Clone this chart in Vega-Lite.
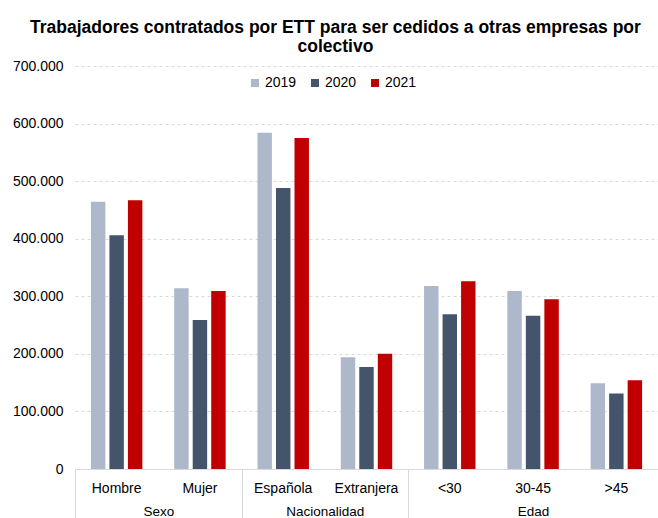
{
  "$schema": "https://vega.github.io/schema/vega-lite/v6.json",
  "width": 583,
  "height": 403,
  "autosize": {"type": "none"},
  "padding": {"top": 66, "left": 75, "right": 0, "bottom": 49},
  "background": "white",
  "title": {
    "text": ["Trabajadores contratados por ETT para ser cedidos a otras empresas por", "colectivo"],
    "anchor": "middle",
    "frame": "bounds",
    "font": "Liberation Sans",
    "fontSize": 17.5,
    "fontWeight": "bold",
    "lineHeight": 19,
    "color": "#000000",
    "offset": 4
  },
  "datasets": {
    "bars": [
      {"cat": "Hombre", "group": "Sexo", "year": "2019", "value": 464000},
      {"cat": "Hombre", "group": "Sexo", "year": "2020", "value": 406000},
      {"cat": "Hombre", "group": "Sexo", "year": "2021", "value": 467000},
      {"cat": "Mujer", "group": "Sexo", "year": "2019", "value": 314000},
      {"cat": "Mujer", "group": "Sexo", "year": "2020", "value": 259000},
      {"cat": "Mujer", "group": "Sexo", "year": "2021", "value": 309000},
      {"cat": "Española", "group": "Nacionalidad", "year": "2019", "value": 584000},
      {"cat": "Española", "group": "Nacionalidad", "year": "2020", "value": 488000},
      {"cat": "Española", "group": "Nacionalidad", "year": "2021", "value": 575000},
      {"cat": "Extranjera", "group": "Nacionalidad", "year": "2019", "value": 194000},
      {"cat": "Extranjera", "group": "Nacionalidad", "year": "2020", "value": 177000},
      {"cat": "Extranjera", "group": "Nacionalidad", "year": "2021", "value": 200000},
      {"cat": "<30", "group": "Edad", "year": "2019", "value": 318000},
      {"cat": "<30", "group": "Edad", "year": "2020", "value": 269000},
      {"cat": "<30", "group": "Edad", "year": "2021", "value": 326000},
      {"cat": "30-45", "group": "Edad", "year": "2019", "value": 309000},
      {"cat": "30-45", "group": "Edad", "year": "2020", "value": 266000},
      {"cat": "30-45", "group": "Edad", "year": "2021", "value": 295000},
      {"cat": ">45", "group": "Edad", "year": "2019", "value": 149000},
      {"cat": ">45", "group": "Edad", "year": "2020", "value": 131000},
      {"cat": ">45", "group": "Edad", "year": "2021", "value": 154000}
    ],
    "groups": [
      {"group": "Sexo", "start": 0, "end": 2},
      {"group": "Nacionalidad", "start": 2, "end": 4},
      {"group": "Edad", "start": 4, "end": 7}
    ]
  },
  "config": {
    "font": "Liberation Sans",
    "view": {"stroke": null},
    "axis": {"labelFont": "Liberation Sans", "labelColor": "#000000", "labelFontSize": 14}
  },
  "resolve": {"scale": {"x": "independent"}, "axis": {"x": "independent"}},
  "layer": [
    {
      "data": {"name": "bars"},
      "mark": {"type": "bar"},
      "encoding": {
        "x": {
          "field": "cat",
          "type": "nominal",
          "sort": ["Hombre", "Mujer", "Española", "Extranjera", "<30", "30-45", ">45"],
          "scale": {"paddingInner": 0, "paddingOuter": 0},
          "axis": {
            "orient": "bottom",
            "title": null,
            "labelAngle": 0,
            "ticks": false,
            "domain": true,
            "domainColor": "#d9d9d9",
            "domainWidth": 1,
            "labelPadding": 12,
            "grid": false
          }
        },
        "xOffset": {
          "field": "year",
          "type": "nominal",
          "scale": {"paddingInner": 0.22, "paddingOuter": 0.86}
        },
        "y": {
          "field": "value",
          "type": "quantitative",
          "scale": {"domain": [0, 700000], "nice": false},
          "axis": {
            "title": null,
            "values": [0, 100000, 200000, 300000, 400000, 500000, 600000, 700000],
            "labelExpr": "replace(format(datum.value, ','), regexp(',', 'g'), '.')",
            "domain": false,
            "ticks": false,
            "labelPadding": 12,
            "grid": true,
            "gridColor": "#d9d9d9",
            "gridDash": [3, 3],
            "gridWidth": 1
          }
        },
        "color": {
          "field": "year",
          "type": "nominal",
          "scale": {"domain": ["2019", "2020", "2021"], "range": ["#adb9ca", "#44546a", "#c00000"]},
          "legend": {
            "title": null,
            "orient": "none",
            "direction": "horizontal",
            "legendX": 173,
            "legendY": 10,
            "symbolType": "square",
            "symbolSize": 64,
            "symbolStrokeWidth": 0,
            "labelFontSize": 14,
            "labelFont": "Liberation Sans",
            "labelColor": "#000000",
            "columnPadding": 11,
            "labelOffset": 3
          }
        }
      }
    },
    {
      "data": {"name": "groups"},
      "mark": {"type": "rule", "opacity": 0},
      "encoding": {
        "x": {
          "field": "start",
          "type": "quantitative",
          "scale": {"domain": [0, 7], "nice": false, "zero": true},
          "axis": {
            "orient": "bottom",
            "title": null,
            "values": [0, 2, 4, 7],
            "labels": false,
            "domain": false,
            "grid": false,
            "ticks": true,
            "tickSize": 50,
            "tickColor": "#d9d9d9",
            "tickWidth": 1
          }
        }
      }
    },
    {
      "data": {"name": "groups"},
      "mark": {"type": "rule", "opacity": 0},
      "encoding": {
        "x": {
          "field": "end",
          "type": "quantitative",
          "scale": {"domain": [0, 7], "nice": false, "zero": true},
          "axis": {
            "orient": "bottom",
            "title": null,
            "values": [1, 3, 5.5],
            "labelExpr": "datum.value == 1 ? 'Sexo' : datum.value == 3 ? 'Nacionalidad' : 'Edad'",
            "domain": false,
            "grid": false,
            "ticks": false,
            "labelPadding": 35,
            "labelFontSize": 13.5
          }
        }
      }
    }
  ]
}
